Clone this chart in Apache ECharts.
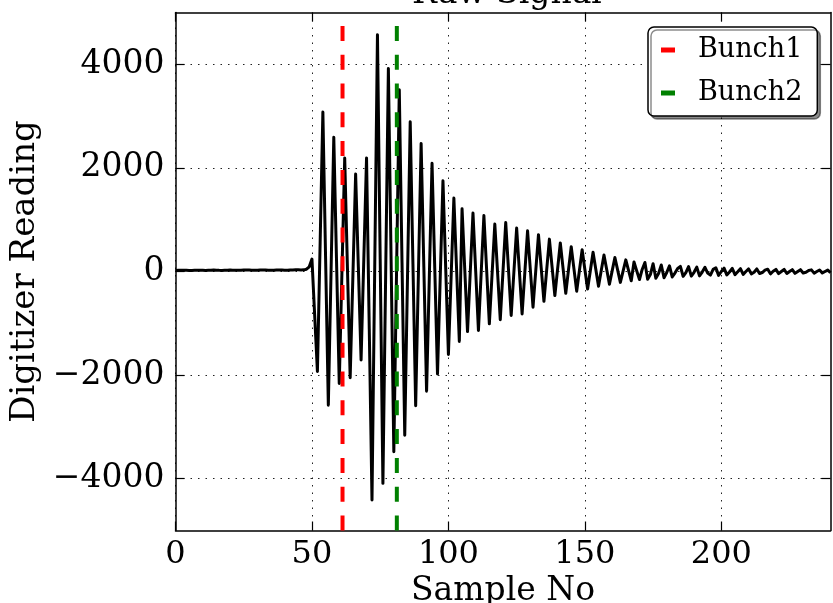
<!DOCTYPE html>
<html>
<head>
<meta charset="utf-8">
<script src="https://cdn.jsdelivr.net/npm/echarts@6/dist/echarts.min.js"></script>
<style>
html,body{margin:0;padding:0;background:#fff;}
#c{width:833px;height:603px;}
</style>
</head>
<body>
<div id="c"></div>
<script>
// ---- data ----
const firstSample = 0;
const signal = [
  20, 22, 25, 24, 22, 20, 21, 24, 26, 25,
  22, 20, 22, 25, 27, 25, 22, 21, 23, 26,
  28, 26, 23, 22, 24, 27, 29, 27, 24, 23,
  25, 28, 30, 28, 25, 24, 26, 29, 31, 29,
  26, 25, 27, 30, 33, 32, 30, 32, 45, 90,
  240, -850, -1930, 560, 3080, 250, -2580, 5, 2590, 215,
  -2160, 15, 2190, 70, -2050, -85, 1880, 85, -1710, 240,
  2190, -1110, -4410, 80, 4570, 240, -4090, -85, 3920, 220,
  -3480, 15, 3510, 175, -3160, -135, 2890, 150, -2590, -60,
  2470, 80, -2310, -110, 2090, 55, -1980, -115, 1750, 75,
  -1600, -90, 1420, 35, -1350, 1210, 30, -1160, -15, 1130,
  0, -1140, -30, 1080, 35, -1010, -48, 915, -8, -930,
  8, 945, 48, -850, -5, 840, 10, -820, -18, 785,
  48, -690, 10, 710, 68, -575, 25, 625, 80, -465,
  45, 550, 65, -420, 30, 480, 50, -380, 20, 420,
  40, -340, 15, 370, 42, -285, 18, 320, 38, -245,
  12, 270, 30, -210, 8, 225, 22, -180, 185, 12,
  -155, 40, 175, -150, -60, 150, -130, -40, 125, -120,
  -20, 110, -105, -30, 60, 100, -95, -20, 95, -90,
  -15, 85, -85, -10, 80, -30, -70, 40, 70, -75,
  0, 65, -65, -10, 60, -60, -5, 55, -55, 0,
  50, -45, -15, 50, -40, -20, 25, 45, -45, 5,
  40, -40, 0, 40, -38, 0, 36, -36, 0, 35,
  -30, -15, 20, 32, -32, 0, 30, -30, 0, 30,
  -25
];
const bunchNames = ['Bunch1', 'Bunch2'];
const bunchSamples = [61.2, 81.1];
const xTicks = [0, 50, 100, 150, 200];
const yTicks = [-4000, -2000, 0, 2000, 4000];
const xRange = [0, 240];
const yRange = [-5000, 5000];

// ---- chart ----
const FONT = 'DejaVu Serif';
const bunchColors = ['#ff0000', '#008000'];
const fmtY = v => (v < 0 ? '\u2212' + Math.abs(v) : String(v));

const axisLineStyle = {color: '#000', width: 1.5};
const tickStyle = {color: '#000', width: 1.2};
const gridLine = {show: true, lineStyle: {color: '#222', width: 1, type: [1.5, 6]}};

const chart = echarts.init(document.getElementById('c'), null, {renderer: 'canvas'});
chart.setOption({
  animation: false,
  backgroundColor: '#fff',
  title: {
    text: 'Raw Signal',
    left: 502, top: -27, textAlign: 'center',
    textStyle: {fontFamily: FONT, fontSize: 33, fontWeight: 'normal', color: '#000'}
  },
  grid: {left: 175.5, right: 2.5, top: 12.5, bottom: 72.5, containLabel: false, outerBoundsMode: 'none'},
  legend: {
    data: bunchNames,
    orient: 'vertical',
    left: 648, top: 27,
    padding: [8, 15, 8, 13],
    itemWidth: 14, itemHeight: 5, itemGap: 13,
    icon: 'rect',
    backgroundColor: '#fff', borderColor: '#000', borderWidth: 1.5, borderRadius: 6,
    shadowColor: 'rgba(0,0,0,0.45)', shadowOffsetX: 3, shadowOffsetY: 3, shadowBlur: 0,
    textStyle: {fontFamily: FONT, fontSize: 27, color: '#000', padding: [0, 0, 0, 18], lineHeight: 30}
  },
  xAxis: [
    {
      type: 'value', min: xRange[0], max: xRange[1],
      name: 'Sample No', nameLocation: 'middle', nameGap: 38,
      nameTextStyle: {fontFamily: FONT, fontSize: 33, color: '#000'},
      axisLine: {show: true, onZero: false, lineStyle: axisLineStyle},
      axisTick: {show: true, inside: true, length: 9, customValues: xTicks, lineStyle: tickStyle},
      axisLabel: {customValues: xTicks, margin: 8, fontFamily: FONT, fontSize: 32, color: '#000'},
      splitLine: gridLine
    },
    {
      type: 'value', min: xRange[0], max: xRange[1], position: 'top',
      axisLine: {show: true, onZero: false, lineStyle: axisLineStyle},
      axisTick: {show: true, inside: true, length: 9, customValues: xTicks, lineStyle: tickStyle},
      axisLabel: {show: false},
      splitLine: {show: false}
    }
  ],
  yAxis: [
    {
      type: 'value', min: yRange[0], max: yRange[1],
      name: 'Digitizer Reading', nameLocation: 'middle', nameGap: 131,
      nameTextStyle: {fontFamily: FONT, fontSize: 34, color: '#000'},
      axisLine: {show: true, onZero: false, lineStyle: axisLineStyle},
      axisTick: {show: true, inside: true, length: 9, customValues: yTicks, lineStyle: tickStyle},
      axisLabel: {customValues: yTicks, formatter: fmtY, margin: 11, fontFamily: FONT, fontSize: 33, color: '#000'},
      splitLine: gridLine
    },
    {
      type: 'value', min: yRange[0], max: yRange[1], position: 'right',
      axisLine: {show: true, onZero: false, lineStyle: axisLineStyle},
      axisTick: {show: true, inside: true, length: 9, customValues: yTicks, lineStyle: tickStyle},
      axisLabel: {show: false},
      splitLine: {show: false}
    }
  ],
  series: [
    {
      name: 'signal', type: 'line', xAxisIndex: 0, yAxisIndex: 0,
      data: signal.map((v, i) => [firstSample + i, v]),
      symbol: 'none', showSymbol: false,
      lineStyle: {color: '#000', width: 3, join: 'round'},
      itemStyle: {color: '#000'}, z: 3
    }
  ].concat(bunchNames.map((n, k) => ({
    name: n, type: 'line', xAxisIndex: 0, yAxisIndex: 0,
    data: [[bunchSamples[k], yRange[0]], [bunchSamples[k], yRange[1]]],
    symbol: 'none', showSymbol: false,
    lineStyle: {color: bunchColors[k], width: 4, type: [15, 13.8]},
    itemStyle: {color: bunchColors[k]}, z: 4
  })))
});
</script>
</body>
</html>
